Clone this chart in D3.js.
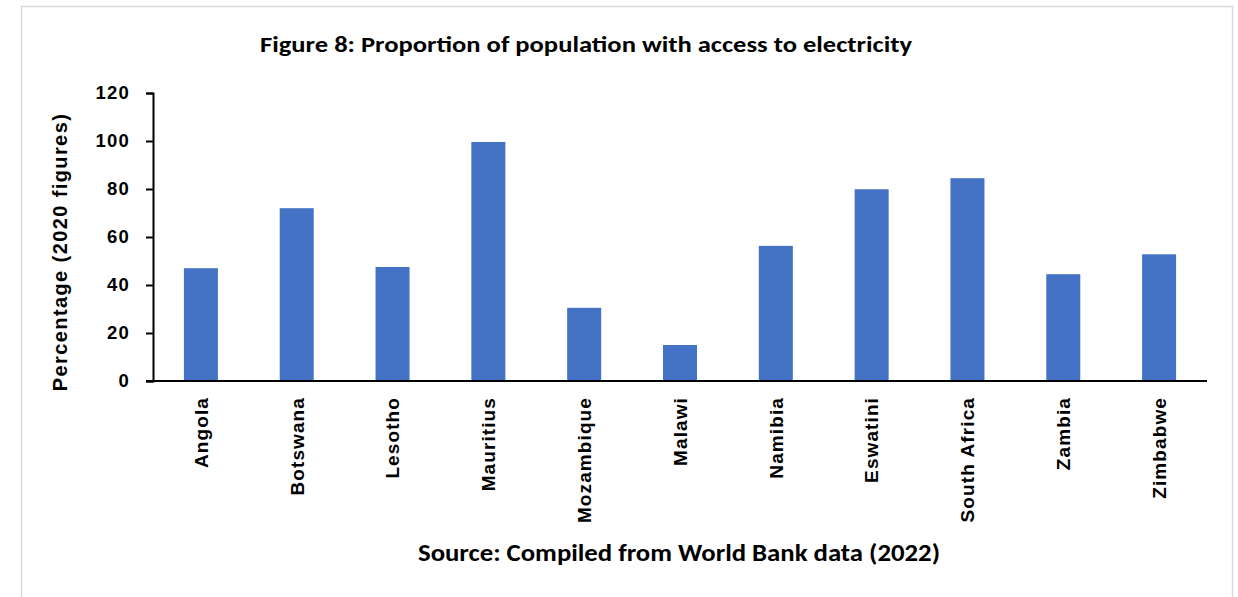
<!DOCTYPE html>
<html>
<head>
<meta charset="utf-8">
<script src="https://cdn.jsdelivr.net/npm/d3@7"></script>
<style>
  body { margin: 0; background: #fff; }
  svg { display: block; }
  .axis text { font-family: "Liberation Sans", Arial, sans-serif; font-weight: bold; fill: #000; }
</style>
</head>
<body>
<script>
var countries = ["Angola", "Botswana", "Lesotho", "Mauritius", "Mozambique", "Malawi",
                 "Namibia", "Eswatini", "South Africa", "Zambia", "Zimbabwe"];
var access = [47.0, 72.0, 47.5, 99.6, 30.5, 15.0, 56.3, 79.9, 84.5, 44.5, 52.8];
var yTicks = [0, 20, 40, 60, 80, 100, 120];

var titleText = "Figure 8: Proportion of population with access to electricity";
var sourceText = "Source: Compiled from World Bank data (2022)";
var yTitle = "Percentage (2020 figures)";

var W = 1238, H = 597;
var x0 = 153, x1 = 1207, yTop = 93, yBase = 381;

var svg = d3.select("body").append("svg")
    .attr("width", W)
    .attr("height", H);

// light grey frame of the chart area (runs off the bottom)
svg.append("rect")
    .attr("x", 21.5).attr("y", 6.5)
    .attr("width", 1211).attr("height", 640)
    .attr("fill", "none")
    .attr("stroke", "#d9d9d9")
    .attr("stroke-width", 1.5);

var x = d3.scaleBand()
    .domain(countries)
    .range([x0, x1])
    .paddingInner(0.645)
    .paddingOuter(0.3225);

var y = d3.scaleLinear()
    .domain([0, 120])
    .range([yBase, yTop]);

var data = countries.map(function(c, i) { return {country: c, value: access[i]}; });

svg.selectAll(".bar")
    .data(data)
  .enter().append("rect")
    .attr("class", "bar")
    .attr("x", function(d) { return x(d.country); })
    .attr("y", function(d) { return y(d.value); })
    .attr("width", x.bandwidth())
    .attr("height", function(d) { return yBase - y(d.value); })
    .attr("fill", "#4472c4");

// y axis
var yAxis = svg.append("g")
    .attr("class", "axis")
    .attr("transform", "translate(" + x0 + ",0)")
    .call(d3.axisLeft(y).tickValues(yTicks).tickSize(7).tickPadding(16));
yAxis.select(".domain").attr("stroke", "#000").attr("stroke-width", 2);
yAxis.selectAll(".tick line").attr("stroke", "#000").attr("stroke-width", 2);
yAxis.selectAll(".tick text")
    .style("font-size", "18.5px")
    .style("letter-spacing", "1.2px");

// x axis line + rotated labels
var xAxis = svg.append("g")
    .attr("class", "axis")
    .attr("transform", "translate(0," + yBase + ")")
    .call(d3.axisBottom(x).tickSize(0).tickSizeOuter(0));
xAxis.select(".domain")
    .attr("stroke", "#000")
    .attr("stroke-width", 2)
    .attr("d", "M" + (x0 - 7) + ",0H" + x1);
xAxis.selectAll(".tick text")
    .attr("transform", "rotate(-90)")
    .attr("x", -16)
    .attr("y", 0)
    .attr("dy", "0.36em")
    .attr("text-anchor", "end")
    .style("font-size", "19px")
    .style("letter-spacing", "1.1px");

// y axis title
svg.append("text")
    .attr("transform", "translate(67,252) rotate(-90)")
    .attr("text-anchor", "middle")
    .style("font-family", "'Liberation Sans', Arial, sans-serif")
    .style("font-weight", "bold")
    .style("font-size", "20px")
    .style("letter-spacing", "1.4px")
    .text(yTitle);

// title and source note
svg.append("text")
    .attr("x", 260).attr("y", 51.5)
    .attr("textLength", 652)
    .attr("lengthAdjust", "spacingAndGlyphs")
    .style("font-family", "Carlito, 'Open Sans', sans-serif")
    .style("font-weight", "bold")
    .style("font-size", "22px")
    .text(titleText);

svg.append("text")
    .attr("x", 418).attr("y", 561)
    .attr("textLength", 522)
    .attr("lengthAdjust", "spacingAndGlyphs")
    .style("font-family", "Carlito, 'Open Sans', sans-serif")
    .style("font-weight", "bold")
    .style("font-size", "25px")
    .text(sourceText);
</script>
</body>
</html>
